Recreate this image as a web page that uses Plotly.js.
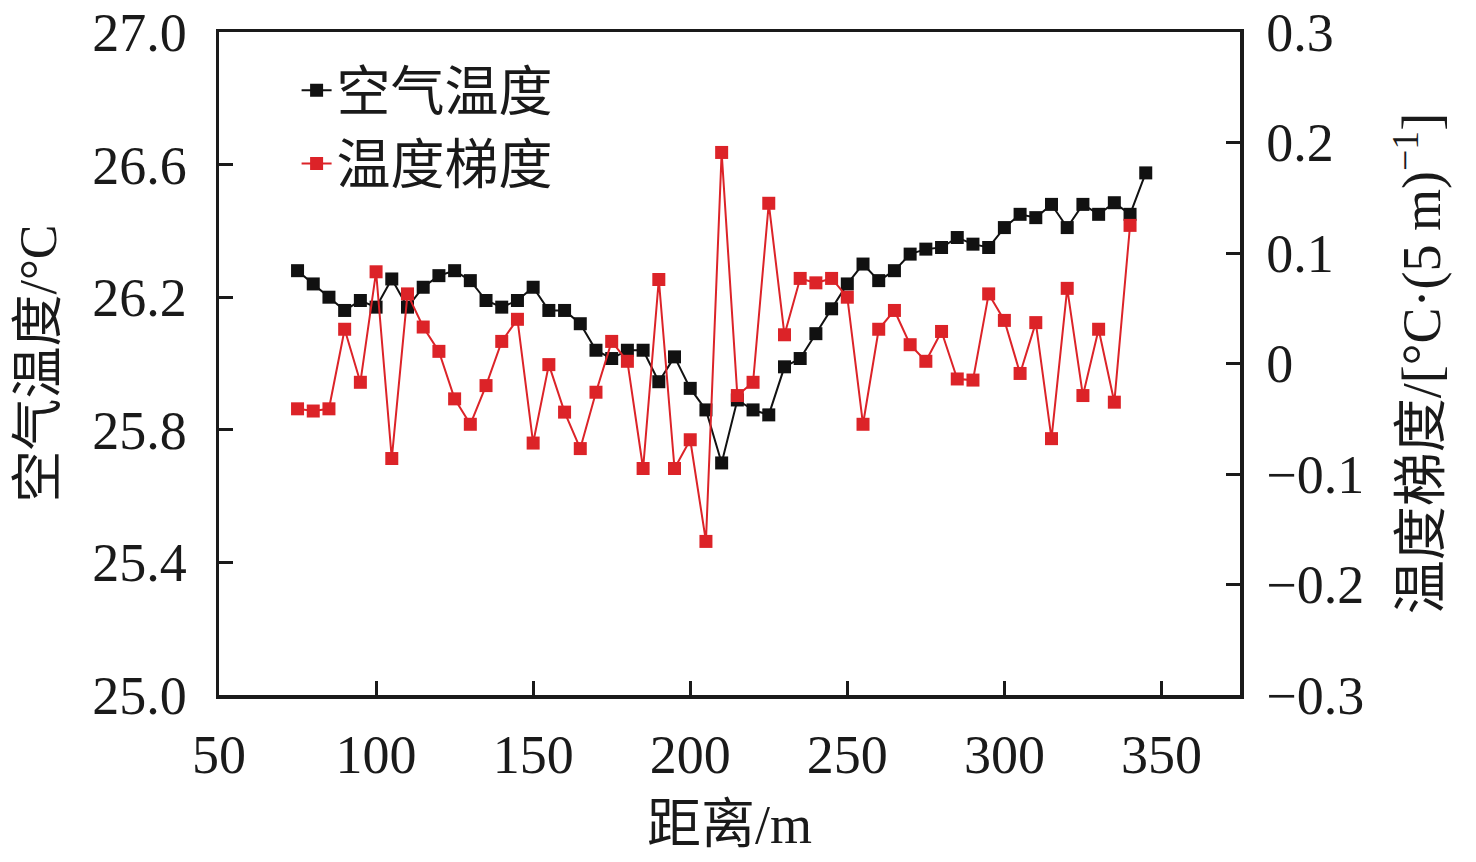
<!DOCTYPE html>
<html>
<head>
<meta charset="utf-8">
<script src="https://cdn.plot.ly/plotly-3.0.1.min.js"></script>
<style>html,body{margin:0;padding:0;background:#fff;}#chart{width:1476px;height:862px;}</style>
</head>
<body>
<div id="chart"></div>
<script>
const distAir = [75,80,85,90,95,100,105,110,115,120,125,130,135,140,145,150,155,160,165,170,175,180,185,190,195,200,205,210,215,220,225,230,235,240,245,250,255,260,265,270,275,280,285,290,295,300,305,310,315,320,325,330,335,340,345];
const airTemp = [26.28,26.24,26.20,26.16,26.19,26.17,26.255,26.17,26.23,26.265,26.28,26.25,26.19,26.17,26.19,26.23,26.16,26.16,26.12,26.04,26.015,26.04,26.04,25.945,26.02,25.925,25.86,25.70,25.89,25.86,25.845,25.99,26.015,26.09,26.165,26.24,26.30,26.25,26.28,26.33,26.345,26.35,26.38,26.36,26.35,26.41,26.45,26.44,26.48,26.41,26.48,26.45,26.485,26.45,26.575];
const distGrad = [75,80,85,90,95,100,105,110,115,120,125,130,135,140,145,150,155,160,165,170,175,180,185,190,195,200,205,210,215,220,225,230,235,240,245,250,255,260,265,270,275,280,285,290,295,300,305,310,315,320,325,330,335,340];
const tempGrad = [-0.041,-0.043,-0.041,0.031,-0.017,0.083,-0.086,0.063,0.033,0.011,-0.032,-0.055,-0.020,0.020,0.040,-0.072,-0.001,-0.044,-0.077,-0.026,0.020,0.002,-0.095,0.076,-0.095,-0.069,-0.161,0.191,-0.029,-0.017,0.145,0.026,0.077,0.073,0.077,0.060,-0.055,0.031,0.048,0.017,0.002,0.029,-0.014,-0.015,0.063,0.039,-0.009,0.037,-0.068,0.068,-0.029,0.031,-0.035,0.125];
const xTicks = [50,100,150,200,250,300,350];
const yTicks = [25.0,25.4,25.8,26.2,26.6,27.0];
const yTickText = ['25.0','25.4','25.8','26.2','26.6','27.0'];
const y2Ticks = [-0.3,-0.2,-0.1,0,0.1,0.2,0.3];
const y2TickText = ['\u22120.3','\u22120.2','\u22120.1','0','0.1','0.2','0.3'];
const nameAir = '空气温度';
const nameGrad = '温度梯度';

const FONT = 'Liberation Serif, Times New Roman, Noto Sans CJK SC, serif';
const traces = [
  {x: distAir, y: airTemp, name: nameAir, type: 'scatter', mode: 'lines+markers',
   line: {color: '#111111', width: 2}, marker: {symbol: 'square', size: 13, color: '#111111'}, yaxis: 'y'},
  {x: distGrad, y: tempGrad, name: nameGrad, type: 'scatter', mode: 'lines+markers',
   line: {color: '#dc2328', width: 2}, marker: {symbol: 'square', size: 13, color: '#dc2328'}, yaxis: 'y2'}
];
const axisCommon = {showgrid: false, zeroline: false, showline: true, linecolor: '#1a1a1a', linewidth: 3.5,
  ticks: 'inside', ticklen: 14, tickwidth: 3, tickcolor: '#1a1a1a', tickfont: {family: FONT, size: 54, color: '#1a1a1a'}};
const layout = {
  width: 1476, height: 862,
  margin: {l: 219, r: 236, t: 32, b: 167},
  paper_bgcolor: '#ffffff', plot_bgcolor: '#ffffff',
  font: {family: FONT, color: '#1a1a1a'},
  showlegend: true,
  legend: {x: 0.076, y: 0.975, xanchor: 'left', yanchor: 'top', bgcolor: 'rgba(0,0,0,0)',
    font: {family: FONT, size: 54, color: '#1a1a1a'}, tracegroupgap: 0, itemwidth: 30},
  xaxis: Object.assign({}, axisCommon, {range: [50, 375], tickvals: xTicks, ticktext: xTicks.map(String), mirror: true,
    ticklabelstandoff: 10,
    title: {text: '距离/m', font: {family: FONT, size: 54, color: '#1a1a1a'}, standoff: 22}}),
  yaxis: Object.assign({}, axisCommon, {range: [25.0, 27.0], tickvals: yTicks, ticktext: yTickText,
    ticklabelstandoff: 18,
    title: {text: '空气温度/°C', font: {family: FONT, size: 52, color: '#1a1a1a'}, standoff: 20}}),
  yaxis2: Object.assign({}, axisCommon, {range: [-0.3, 0.3], tickvals: y2Ticks, ticktext: y2TickText,
    overlaying: 'y', side: 'right', ticklabelstandoff: 12,
    title: {text: '温度梯度/[°C·(5 m)<sup>−1</sup>]', font: {family: FONT, size: 54, color: '#1a1a1a'}, standoff: 40}})
};
Plotly.newPlot('chart', traces, layout, {displayModeBar: false, staticPlot: true});
</script>
</body>
</html>
